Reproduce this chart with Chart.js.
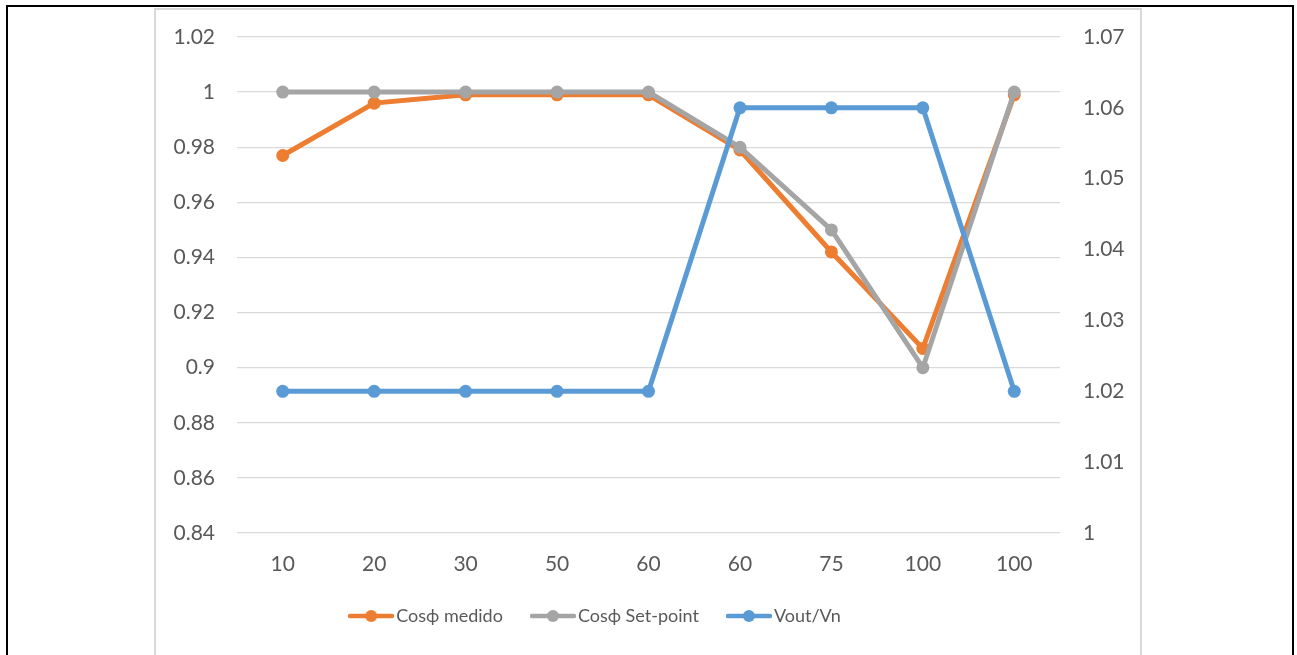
<!DOCTYPE html>
<html>
<head>
<meta charset="utf-8">
<script src="https://cdn.jsdelivr.net/npm/chart.js@4.4.0/dist/chart.umd.min.js"></script>
<style>
  html, body { margin: 0; padding: 0; background: #fff; overflow: hidden; }
  #frame { position: absolute; left: 6px; top: 5px; width: 1284px; height: 700px; border: 2px solid #000; }
  #box { position: absolute; left: 154px; top: 8px; width: 984px; height: 700px; border: 2px solid #d9d9d9; }
  #wrap { position: absolute; left: 0; top: 0; width: 1196px; height: 655px; }
</style>
</head>
<body>
<div id="frame"></div>
<div id="box"></div>
<div id="wrap"><canvas id="chart"></canvas></div>
<script>
const categories = ["10", "20", "30", "50", "60", "60", "75", "100", "100"];
const cosMedido = [0.977, 0.996, 0.999, 0.999, 0.999, 0.979, 0.942, 0.907, 0.999];
const cosSetPoint = [1, 1, 1, 1, 1, 0.98, 0.95, 0.90, 1];
const voutVn = [1.02, 1.02, 1.02, 1.02, 1.02, 1.06, 1.06, 1.06, 1.02];

const orange = "#ED7D31";
const grey = "#A5A5A5";
const blue = "#5B9BD5";
const FONT = "Lato, 'DejaVu Sans', sans-serif";

// legend symbol: short line with a dot in the middle
function legendIcon(color) {
    const c = document.createElement('canvas');
    c.width = 46;
    c.height = 14;
    const ctx = c.getContext('2d');
    ctx.strokeStyle = color;
    ctx.lineWidth = 4.5;
    ctx.lineCap = 'round';
    ctx.beginPath();
    ctx.moveTo(2, 7);
    ctx.lineTo(44, 7);
    ctx.stroke();
    ctx.fillStyle = color;
    ctx.beginPath();
    ctx.arc(23, 7, 6, 0, Math.PI * 2);
    ctx.fill();
    return c;
}

function makeSet(label, data, color, axis, order) {
    return {
        label: label,
        data: data,
        yAxisID: axis,
        borderColor: color,
        backgroundColor: color,
        borderWidth: 5,
        pointRadius: 6.5,
        pointHoverRadius: 6.5,
        pointBorderWidth: 0,
        pointBackgroundColor: color,
        pointStyle: 'circle',
        tension: 0,
        order: order
    };
}

const ctx = document.getElementById('chart').getContext('2d');

new Chart(ctx, {
    type: 'line',
    data: {
        labels: categories,
        datasets: [
            makeSet("Cosϕ medido", cosMedido, orange, 'y', 3),
            makeSet("Cosϕ Set-point", cosSetPoint, grey, 'y', 2),
            makeSet("Vout/Vn", voutVn, blue, 'y1', 1)
        ]
    },
    options: {
        responsive: true,
        maintainAspectRatio: false,
        animation: false,
        layout: {padding: {top: 37, bottom: 20, left: 0, right: 0}},
        plugins: {
            tooltip: {enabled: false},
            legend: {
                position: 'bottom',
                labels: {
                    usePointStyle: true,
                    pointStyleWidth: 32,
                    padding: 34,
                    color: '#595959',
                    font: {family: FONT, size: 18},
                    generateLabels: function(chart) {
                        return chart.data.datasets.map(function(ds, i) {
                            return {
                                text: ds.label,
                                datasetIndex: i,
                                pointStyle: legendIcon(ds.borderColor),
                                fillStyle: ds.borderColor,
                                strokeStyle: ds.borderColor,
                                lineWidth: 0,
                                fontColor: '#595959',
                                hidden: false
                            };
                        });
                    }
                }
            }
        },
        scales: {
            x: {
                offset: true,
                afterFit: function(scale) { scale.height = 40; },
                grid: {display: false, drawTicks: false},
                border: {display: false},
                ticks: {color: '#595959', font: {family: FONT, size: 21}, padding: 19}
            },
            y: {
                position: 'left',
                min: 0.84,
                max: 1.02,
                afterFit: function(scale) { scale.width = 237; },
                afterBuildTicks: function(scale) {
                    scale.ticks = [];
                    for (let i = 0; i <= 9; i++) scale.ticks.push({value: Math.round((0.84 + i * 0.02) * 100) / 100});
                },
                grid: {color: '#d9d9d9', lineWidth: 1.3, drawTicks: false},
                border: {display: false},
                ticks: {color: '#595959', font: {family: FONT, size: 21}, padding: 22,
                        callback: function(v) { return String(Math.round(v * 100) / 100); }}
            },
            y1: {
                position: 'right',
                min: 1,
                max: 1.07,
                afterFit: function(scale) { scale.width = 136; },
                afterBuildTicks: function(scale) {
                    scale.ticks = [];
                    for (let i = 0; i <= 7; i++) scale.ticks.push({value: Math.round((1 + i * 0.01) * 100) / 100});
                },
                grid: {display: false, drawTicks: false},
                border: {display: false},
                ticks: {color: '#595959', font: {family: FONT, size: 21}, padding: 23,
                        callback: function(v) { return String(Math.round(v * 100) / 100); }}
            }
        }
    }
});
</script>
</body>
</html>
